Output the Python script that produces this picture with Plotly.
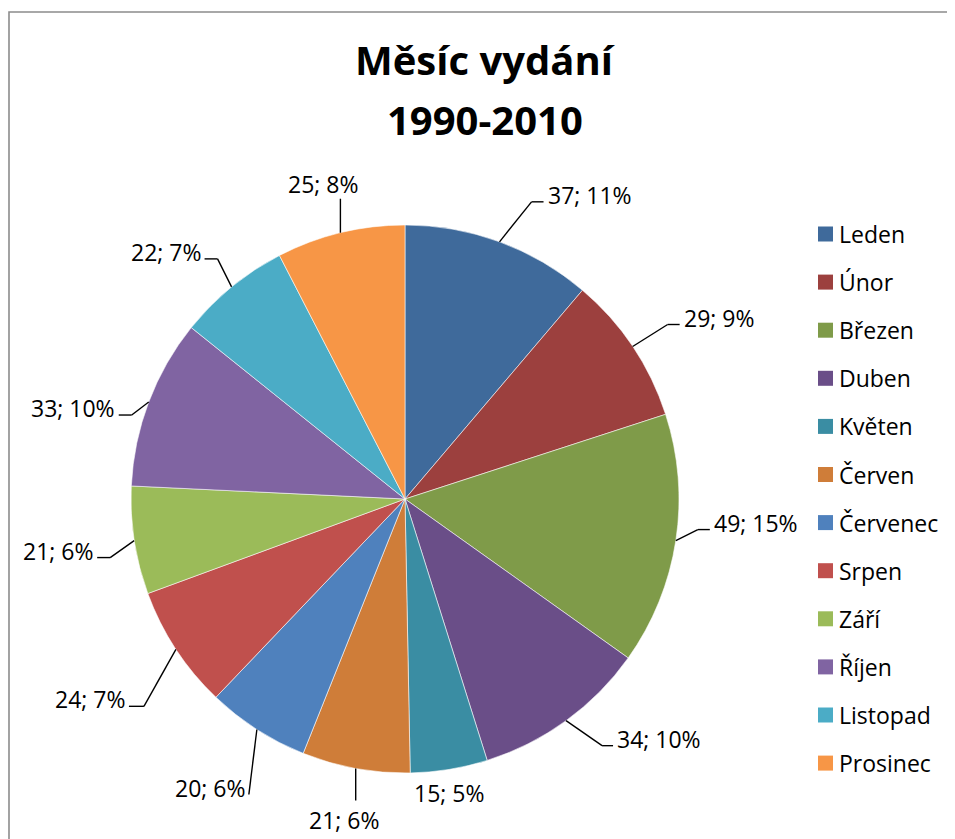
import math
import plotly.graph_objects as go

# ---- data ----
months = ["Leden", "Únor", "Březen", "Duben", "Květen", "Červen",
          "Červenec", "Srpen", "Září", "Říjen", "Listopad", "Prosinec"]
counts = [37, 29, 49, 34, 15, 21, 20, 24, 21, 33, 22, 25]
title_lines = ["Měsíc vydání", "1990-2010"]

# ---- style ----
colors = ["#3F6A9B", "#9C403E", "#7F9B49", "#6A4E88", "#3A8DA3", "#CF7D39",
          "#4F81BD", "#C0504D", "#9BBB59", "#8064A2", "#4BACC6", "#F79646"]
OFF = 8                      # page body margin
W, H = 955 - OFF, 839 - OFF  # figure size so it fills the window
CX, CY, R = 405, 499, 274    # screen pixel geometry of the pie
FONT = "Open Sans"
LBL_SIZE = 23

# leader line offsets (px) from slice edge to elbow, stub length, label mode
lead_dx = [32, 35, 22, 36, 0, 0, -8, -32, -24, -17, -14, 0]
lead_dy = [-40, -22, -11, 25, 0, 32, 65, 57, 17, 13, -28, -34]
stub = [12, 12, 12, 11, 0, 0, 0, 15, 13, 13, 13, 0]
mode = ["R", "R", "R", "R", "C", "C", "L", "L", "L", "L", "L", "C"]
c_shift = {4: (0, 24), 5: (-12, 19), 11: (-17, -15)}


def px(x):
    return (x - OFF) / W


def py(y):
    return 1 - (y - OFF) / H


fig = go.Figure(go.Pie(
    labels=months, values=counts, sort=False, direction="clockwise",
    marker=dict(colors=colors, line=dict(color="rgba(255,255,255,0.7)", width=0.8)),
    textinfo="none", showlegend=False,
    domain=dict(x=[px(CX - R), px(CX + R)], y=[py(CY + R), py(CY - R)]),
    hoverinfo="label+value+percent",
))

total = sum(counts)
shapes = []
annotations = []
cum = 0
for i, v in enumerate(counts):
    th = 2 * math.pi * (cum + v / 2) / total
    cum += v
    ex = CX + R * math.sin(th)
    ey = CY - R * math.cos(th)
    bx = ex + lead_dx[i]
    by = ey + lead_dy[i]
    pct = round(100 * v / total)
    txt = f"{v}; {pct}%"
    line_style = dict(color="black", width=1.4)
    if lead_dx[i] != 0 or lead_dy[i] != 0:
        shapes.append(dict(type="line", xref="paper", yref="paper",
                           x0=px(ex), y0=py(ey), x1=px(bx), y1=py(by), line=line_style))
    if mode[i] == "R":
        sx = bx + stub[i]
        if stub[i]:
            shapes.append(dict(type="line", xref="paper", yref="paper",
                               x0=px(bx), y0=py(by), x1=px(sx), y1=py(by), line=line_style))
        annotations.append(dict(x=px(sx + 2), y=py(by - 7), xanchor="left", yanchor="middle", text=txt))
    elif mode[i] == "L":
        sx = bx - stub[i]
        if stub[i]:
            shapes.append(dict(type="line", xref="paper", yref="paper",
                               x0=px(bx), y0=py(by), x1=px(sx), y1=py(by), line=line_style))
        annotations.append(dict(x=px(sx - 2), y=py(by - 7), xanchor="right", yanchor="middle", text=txt))
    else:
        dx, dy = c_shift[i]
        annotations.append(dict(x=px(bx + dx), y=py(by + dy), xanchor="center", yanchor="middle", text=txt))

for a in annotations:
    a.update(xref="paper", yref="paper", showarrow=False,
             font=dict(family=FONT, size=LBL_SIZE, color="black"))

# manual legend
LEG_X, LEG_Y0, LEG_DY, SQ = 818, 234, 48.1, 15
for i, m in enumerate(months):
    yc = LEG_Y0 + i * LEG_DY
    shapes.append(dict(type="rect", xref="paper", yref="paper",
                       x0=px(LEG_X), x1=px(LEG_X + SQ), y0=py(yc - SQ / 2), y1=py(yc + SQ / 2),
                       fillcolor=colors[i], line=dict(width=0)))
    annotations.append(dict(x=px(LEG_X + SQ + 4), y=py(yc), xref="paper", yref="paper",
                            xanchor="left", yanchor="middle", showarrow=False, text=m,
                            font=dict(family=FONT, size=LBL_SIZE, color="black")))

# title
for k, t in enumerate(title_lines):
    annotations.append(dict(x=px(485), y=py(60 + 60 * k), xref="paper", yref="paper",
                            xanchor="center", yanchor="middle", showarrow=False,
                            text=f"<b>{t}</b>",
                            font=dict(family=FONT, size=40, color="black")))

# chart frame (left edge kept just inside the figure)
shapes.append(dict(type="rect", xref="paper", yref="paper",
                   x0=px(OFF + 1), y0=py(12), x1=px(980), y1=py(880),
                   line=dict(color="#8C8C8C", width=1.6), fillcolor="rgba(0,0,0,0)"))

fig.update_layout(
    width=W, height=H, margin=dict(l=0, r=0, t=0, b=0),
    paper_bgcolor="white", plot_bgcolor="white",
    shapes=shapes, annotations=annotations,
)

fig.write_html("out.html")
